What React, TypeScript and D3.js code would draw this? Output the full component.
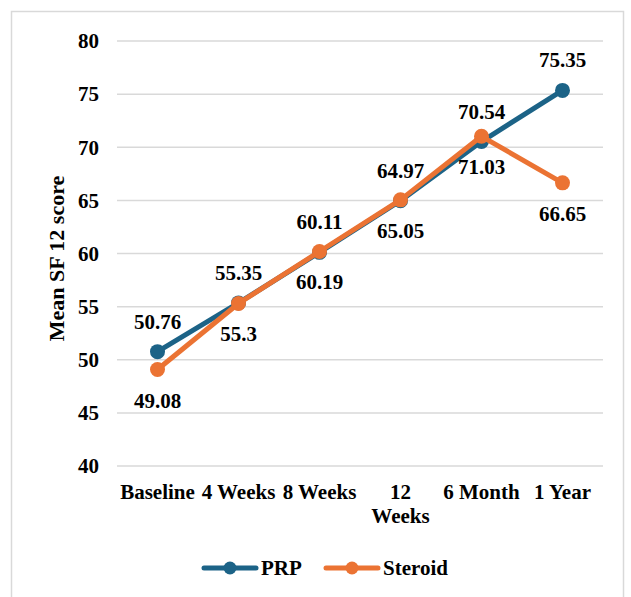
import React from "react";
import * as d3 from "d3";

const categories = ["Baseline", "4 Weeks", "8 Weeks", "12\nWeeks", "6 Month", "1 Year"];
const prpValues = [50.76, 55.35, 60.11, 64.97, 70.54, 75.35];
const steroidValues = [49.08, 55.3, 60.19, 65.05, 71.03, 66.65];
const yTicks = [40, 45, 50, 55, 60, 65, 70, 75, 80];
const seriesNames = ["PRP", "Steroid"];
const yTitle = "Mean SF 12 score";

const W = 631;
const H = 597;
const FONT = "'Liberation Serif', 'Times New Roman', serif";
const BLUE = "#1C6387";
const ORANGE = "#EB7333";
const FS = 21;

export default function App() {
  const x = d3.scaleBand<string>().domain(categories).range([117, 603]);
  const y = d3.scaleLinear().domain([40, 80]).range([466, 41]);
  const cx = (c: string) => (x(c) as number) + x.bandwidth() / 2;
  const line = d3
    .line<number>()
    .x((_, i) => cx(categories[i]))
    .y((d) => y(d));

  const series = [
    { name: seriesNames[0], values: prpValues, color: BLUE, dy: -23 },
    { name: seriesNames[1], values: steroidValues, color: ORANGE, dy: 38 },
  ];

  const legendItems = [
    { name: seriesNames[0], color: BLUE, x0: 202 },
    { name: seriesNames[1], color: ORANGE, x0: 324 },
  ];

  return (
    <svg
      width={W}
      height={H}
      style={{ position: "absolute", left: 0, top: 0, background: "#fff" }}
      fontFamily={FONT}
      fontWeight="bold"
    >
      <rect x={11.5} y={11.5} width={612} height={H + 10} fill="#fff" stroke="#d9d9d9" strokeWidth={1.5} />
      {yTicks.map((t) => (
        <g key={t}>
          <line x1={117} x2={603} y1={y(t)} y2={y(t)} stroke="#d9d9d9" strokeWidth={1.5} />
          <text x={99} y={y(t)} dy="0.35em" textAnchor="end" fontSize={FS} fill="#000">
            {t}
          </text>
        </g>
      ))}
      <text
        transform={`translate(64,${y(60) + 5}) rotate(-90)`}
        textAnchor="middle"
        fontSize={22}
        fill="#000"
      >
        {yTitle}
      </text>
      {categories.map((c) => {
        const lines = c.split("\n");
        return (
          <text key={c} x={cx(c)} y={499} textAnchor="middle" fontSize={FS} fill="#000">
            {lines.map((l, i) => (
              <tspan key={i} x={cx(c)} dy={i === 0 ? 0 : 24}>
                {l}
              </tspan>
            ))}
          </text>
        );
      })}
      {series.map((s) => (
        <g key={s.name}>
          <path d={line(s.values) || ""} fill="none" stroke={s.color} strokeWidth={5} strokeLinejoin="round" strokeLinecap="round" />
          {s.values.map((v, i) => (
            <circle key={i} cx={cx(categories[i])} cy={y(v)} r={7.5} fill={s.color} />
          ))}
        </g>
      ))}
      {series.map((s) => (
        <g key={s.name + "-labels"}>
          {s.values.map((v, i) => (
            <text key={i} x={cx(categories[i])} y={y(v) + s.dy} textAnchor="middle" fontSize={FS} fill="#000">
              {String(v)}
            </text>
          ))}
        </g>
      ))}
      {legendItems.map((l) => (
        <g key={l.name}>
          <line x1={l.x0 + 2} x2={l.x0 + 54} y1={568} y2={568} stroke={l.color} strokeWidth={5} strokeLinecap="round" />
          <circle cx={l.x0 + 28} cy={568} r={6.5} fill={l.color} />
          <text x={l.x0 + 59} y={568} dy="0.35em" fontSize={FS} fill="#000">
            {l.name}
          </text>
        </g>
      ))}
    </svg>
  );
}
